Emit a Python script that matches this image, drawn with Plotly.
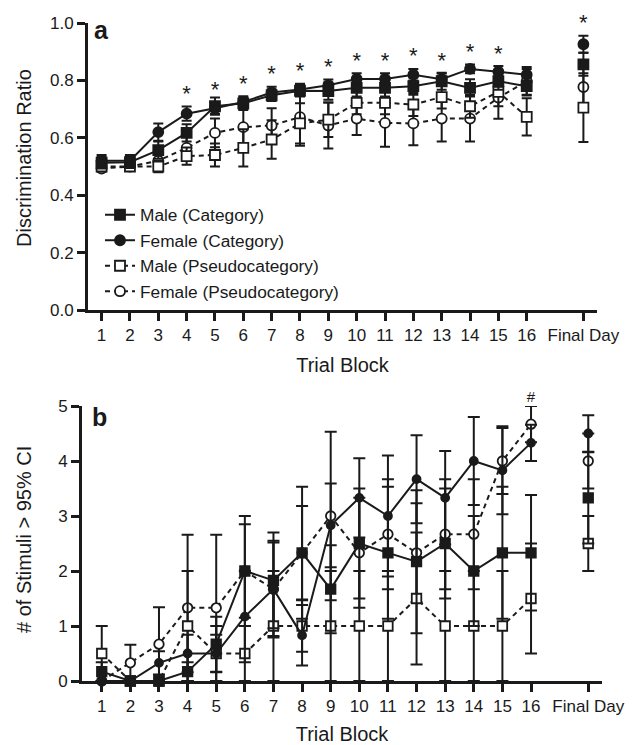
import plotly.graph_objects as go

# ---------------- data ----------------
blocks = list(range(1, 17))
final_pos = 18
tick_vals = blocks + [final_pos]
tick_text = [str(b) for b in blocks] + ["Final Day"]

# Panel a: discrimination ratio (16 blocks + Final Day)
a_male_cat = [0.513, 0.515, 0.557, 0.617, 0.71, 0.72, 0.748, 0.764, 0.763, 0.774, 0.774, 0.78, 0.797, 0.774, 0.797, 0.78, 0.856]
a_male_cat_err = [0.02, 0.02, 0.03, 0.03, 0.03, 0.02, 0.02, 0.02, 0.03, 0.03, 0.03, 0.03, 0.03, 0.03, 0.03, 0.03, 0.04]
a_female_cat = [0.52, 0.52, 0.62, 0.684, 0.703, 0.725, 0.758, 0.768, 0.783, 0.805, 0.805, 0.82, 0.804, 0.84, 0.83, 0.82, 0.926]
a_female_cat_err = [0.02, 0.02, 0.03, 0.025, 0.02, 0.02, 0.02, 0.02, 0.02, 0.02, 0.02, 0.02, 0.02, 0.015, 0.02, 0.02, 0.03]
a_male_ps = [0.50, 0.50, 0.50, 0.536, 0.54, 0.565, 0.594, 0.65, 0.663, 0.722, 0.722, 0.716, 0.742, 0.71, 0.76, 0.673, 0.705]
a_male_ps_err = [0.01, 0.01, 0.02, 0.03, 0.04, 0.065, 0.067, 0.07, 0.06, 0.04, 0.04, 0.04, 0.04, 0.04, 0.05, 0.065, 0.12]
a_female_ps = [0.493, 0.50, 0.52, 0.565, 0.617, 0.637, 0.643, 0.672, 0.643, 0.667, 0.652, 0.65, 0.667, 0.667, 0.74, 0.797, 0.777]
a_female_ps_err = [0.01, 0.01, 0.02, 0.04, 0.05, 0.06, 0.06, 0.1, 0.08, 0.057, 0.083, 0.076, 0.08, 0.08, 0.074, 0.05, 0.07]
a_sig = [0, 0, 0, 1, 1, 1, 1, 1, 1, 1, 1, 1, 1, 1, 1, 0, 1]   # '*'

# Panel b: # of stimuli > 95% CI
b_male_cat = [0.17, 0, 0, 0.17, 0.67, 2.0, 1.83, 2.33, 1.67, 2.5, 2.33, 2.17, 2.5, 2.0, 2.33, 2.33, 3.33]
b_male_cat_err = [0.17, 0, 0, 0.17, 0.5, 1.0, 0.87, 1.2, 0.8, 1.0, 1.2, 1.3, 1.0, 1.0, 1.2, 1.05, 0.83]
b_female_cat = [0, 0, 0.33, 0.5, 0.5, 1.17, 1.67, 0.83, 2.83, 3.33, 3.0, 3.67, 3.33, 4.0, 3.83, 4.33, 4.5]
b_female_cat_err = [0, 0, 0.21, 0.34, 0.34, 0.83, 0.88, 0.55, 0.76, 0.72, 1.1, 0.8, 0.85, 0.8, 0.8, 0.33, 0.33]
b_male_ps = [0.5, 0, 0, 1.0, 0.5, 0.5, 1.0, 1.0, 1.0, 1.0, 1.0, 1.5, 1.0, 1.0, 1.0, 1.5, 2.5]
b_male_ps_err = [0.5, 0, 0, 1.0, 0.5, 0.5, 1.0, 0.47, 1.0, 1.0, 1.0, 1.2, 1.0, 1.0, 1.0, 1.0, 0.5]
b_female_ps = [0, 0.33, 0.67, 1.33, 1.33, 2.0, 1.67, 2.33, 3.0, 2.33, 2.67, 2.33, 2.67, 2.67, 4.0, 4.67, 4.0]
b_female_ps_err = [0, 0.33, 0.67, 1.33, 1.33, 0.85, 0.85, 0.85, 1.53, 1.0, 1.0, 0.9, 1.0, 1.0, 0.6, 0.33, 0.5]
b_sig = [0, 0, 0, 0, 0, 0, 0, 0, 0, 0, 0, 0, 0, 0, 0, 1, 0]   # '#'

series_names = ["Male (Category)", "Female (Category)", "Male (Pseudocategory)", "Female (Pseudocategory)"]

# ---------------- helpers ----------------
FONT = "Liberation Sans, Arial, sans-serif"
INK = "#1a1a1a"
xs = blocks + [17, final_pos]


def split(vals):
    return list(vals[:16]) + [None] + [vals[16]]


styles = {
    "Male (Category)": dict(symbol="square", fill=INK, dash="solid"),
    "Female (Category)": dict(symbol="circle", fill=INK, dash="solid"),
    "Male (Pseudocategory)": dict(symbol="square", fill="white", dash="5px,4px"),
    "Female (Pseudocategory)": dict(symbol="circle", fill="white", dash="5px,4px"),
}

fig = go.Figure()


def add_series(name, vals, errs, xaxis, yaxis, showlegend, size, rank, capw):
    st = styles[name]
    fig.add_trace(go.Scatter(
        x=xs, y=split(vals),
        error_y=dict(type="data", array=split(errs), color=INK, thickness=2, width=capw),
        mode="lines+markers", name=name, showlegend=showlegend,
        legendgroup=name, legendrank=rank,
        line=dict(color=INK, width=2, dash=st["dash"]),
        marker=dict(symbol=st["symbol"], size=size, color=st["fill"],
                    line=dict(color=INK, width=1.8)),
        connectgaps=False, cliponaxis=False,
        xaxis=xaxis, yaxis=yaxis,
    ))


a_sets = {
    "Male (Category)": (a_male_cat, a_male_cat_err),
    "Female (Category)": (a_female_cat, a_female_cat_err),
    "Male (Pseudocategory)": (a_male_ps, a_male_ps_err),
    "Female (Pseudocategory)": (a_female_ps, a_female_ps_err),
}
b_sets = {
    "Male (Category)": (b_male_cat, b_male_cat_err),
    "Female (Category)": (b_female_cat, b_female_cat_err),
    "Male (Pseudocategory)": (b_male_ps, b_male_ps_err),
    "Female (Pseudocategory)": (b_female_ps, b_female_ps_err),
}
order = ["Female (Pseudocategory)", "Male (Pseudocategory)", "Male (Category)", "Female (Category)"]
for nm in order:
    v, e = a_sets[nm]
    add_series(nm, v, e, "x", "y", True, 10, series_names.index(nm) + 1, 5)
for nm in order:
    v, e = b_sets[nm]
    size = 8 if nm == "Female (Category)" else 9.5
    add_series(nm, v, e, "x2", "y2", False, size, series_names.index(nm) + 1, 6)

# significance markers
sig_x_a = [x for x, s in zip(tick_vals, a_sig) if s]
sig_y_a = [v + e for v, e, s in zip(a_female_cat, a_female_cat_err, a_sig) if s]
fig.add_trace(go.Scatter(x=sig_x_a, y=sig_y_a, mode="text", text=["*"] * len(sig_x_a),
                         textposition="top center", textfont=dict(size=22, color=INK, family=FONT),
                         showlegend=False, cliponaxis=False, xaxis="x", yaxis="y", hoverinfo="skip"))
b_upper = [max(a + b for a, b in zip(vs, es)) for vs, es in zip(
    zip(b_male_cat, b_female_cat, b_male_ps, b_female_ps),
    zip(b_male_cat_err, b_female_cat_err, b_male_ps_err, b_female_ps_err))]
sig_x_b = [x for x, s in zip(tick_vals, b_sig) if s]
sig_y_b = [u for u, s in zip(b_upper, b_sig) if s]
fig.add_trace(go.Scatter(x=sig_x_b, y=sig_y_b, mode="text", text=["#"] * len(sig_x_b),
                         textposition="top center", textfont=dict(size=15, color=INK, family=FONT),
                         showlegend=False, cliponaxis=False, xaxis="x2", yaxis="y2", hoverinfo="skip"))

W, H = 642, 745
axis_common = dict(showline=True, linecolor=INK, linewidth=3, ticks="outside",
                   tickwidth=2.5, ticklen=8, tickcolor=INK, showgrid=False, zeroline=False,
                   automargin=False,
                   tickfont=dict(size=17, family=FONT, color=INK))
title_font = dict(size=20, family=FONT, color=INK)

fig.update_layout(
    width=W, height=H, margin=dict(l=0, r=0, t=0, b=0, autoexpand=False),
    paper_bgcolor="white", plot_bgcolor="white",
    font=dict(family=FONT, color=INK),
    xaxis=dict(domain=[88 / W, 597 / W], range=[0.52, 18.48], anchor="y",
               tickvals=tick_vals, ticktext=tick_text,
               title=dict(text="Trial Block", font=title_font, standoff=14),
               **axis_common),
    yaxis=dict(domain=[1 - 310 / H, 1 - 23 / H], range=[0, 1.0], anchor="x",
               tickvals=[0, 0.2, 0.4, 0.6, 0.8, 1.0], tickformat=".1f",
               **axis_common),
    xaxis2=dict(domain=[82 / W, 602 / W], range=[0.31, 18.48], anchor="y2",
                tickvals=tick_vals, ticktext=tick_text,
                title=dict(text="Trial Block", font=title_font, standoff=12),
                **axis_common),
    yaxis2=dict(domain=[1 - 681 / H, 1 - 406 / H], range=[0, 5], anchor="x2",
                tickvals=[0, 1, 2, 3, 4, 5],
                **axis_common),
    legend=dict(x=100 / W, y=1 - 197 / H, xanchor="left", yanchor="top",
                bgcolor="rgba(0,0,0,0)", font=dict(size=17.3, family=FONT, color=INK),
                traceorder="grouped", tracegroupgap=0, itemwidth=30),
    annotations=[
        dict(text="Discrimination Ratio", x=24 / W, y=1 - 158 / H, xref="paper", yref="paper",
             xanchor="center", yanchor="middle",
             textangle=-90, showarrow=False, font=title_font),
        dict(text="# of Stimuli > 95% CI", x=24 / W, y=1 - 540 / H, xref="paper", yref="paper",
             xanchor="center", yanchor="middle",
             textangle=-90, showarrow=False, font=title_font),
        dict(text="<b>a</b>", x=101 / W, y=1 - 30 / H, xref="paper", yref="paper",
             xanchor="center", yanchor="middle",
             showarrow=False, font=dict(size=25, family=FONT, color=INK)),
        dict(text="<b>b</b>", x=99 / W, y=1 - 417 / H, xref="paper", yref="paper",
             xanchor="center", yanchor="middle",
             showarrow=False, font=dict(size=25, family=FONT, color=INK)),
    ],
)

fig.write_html("out.html")
